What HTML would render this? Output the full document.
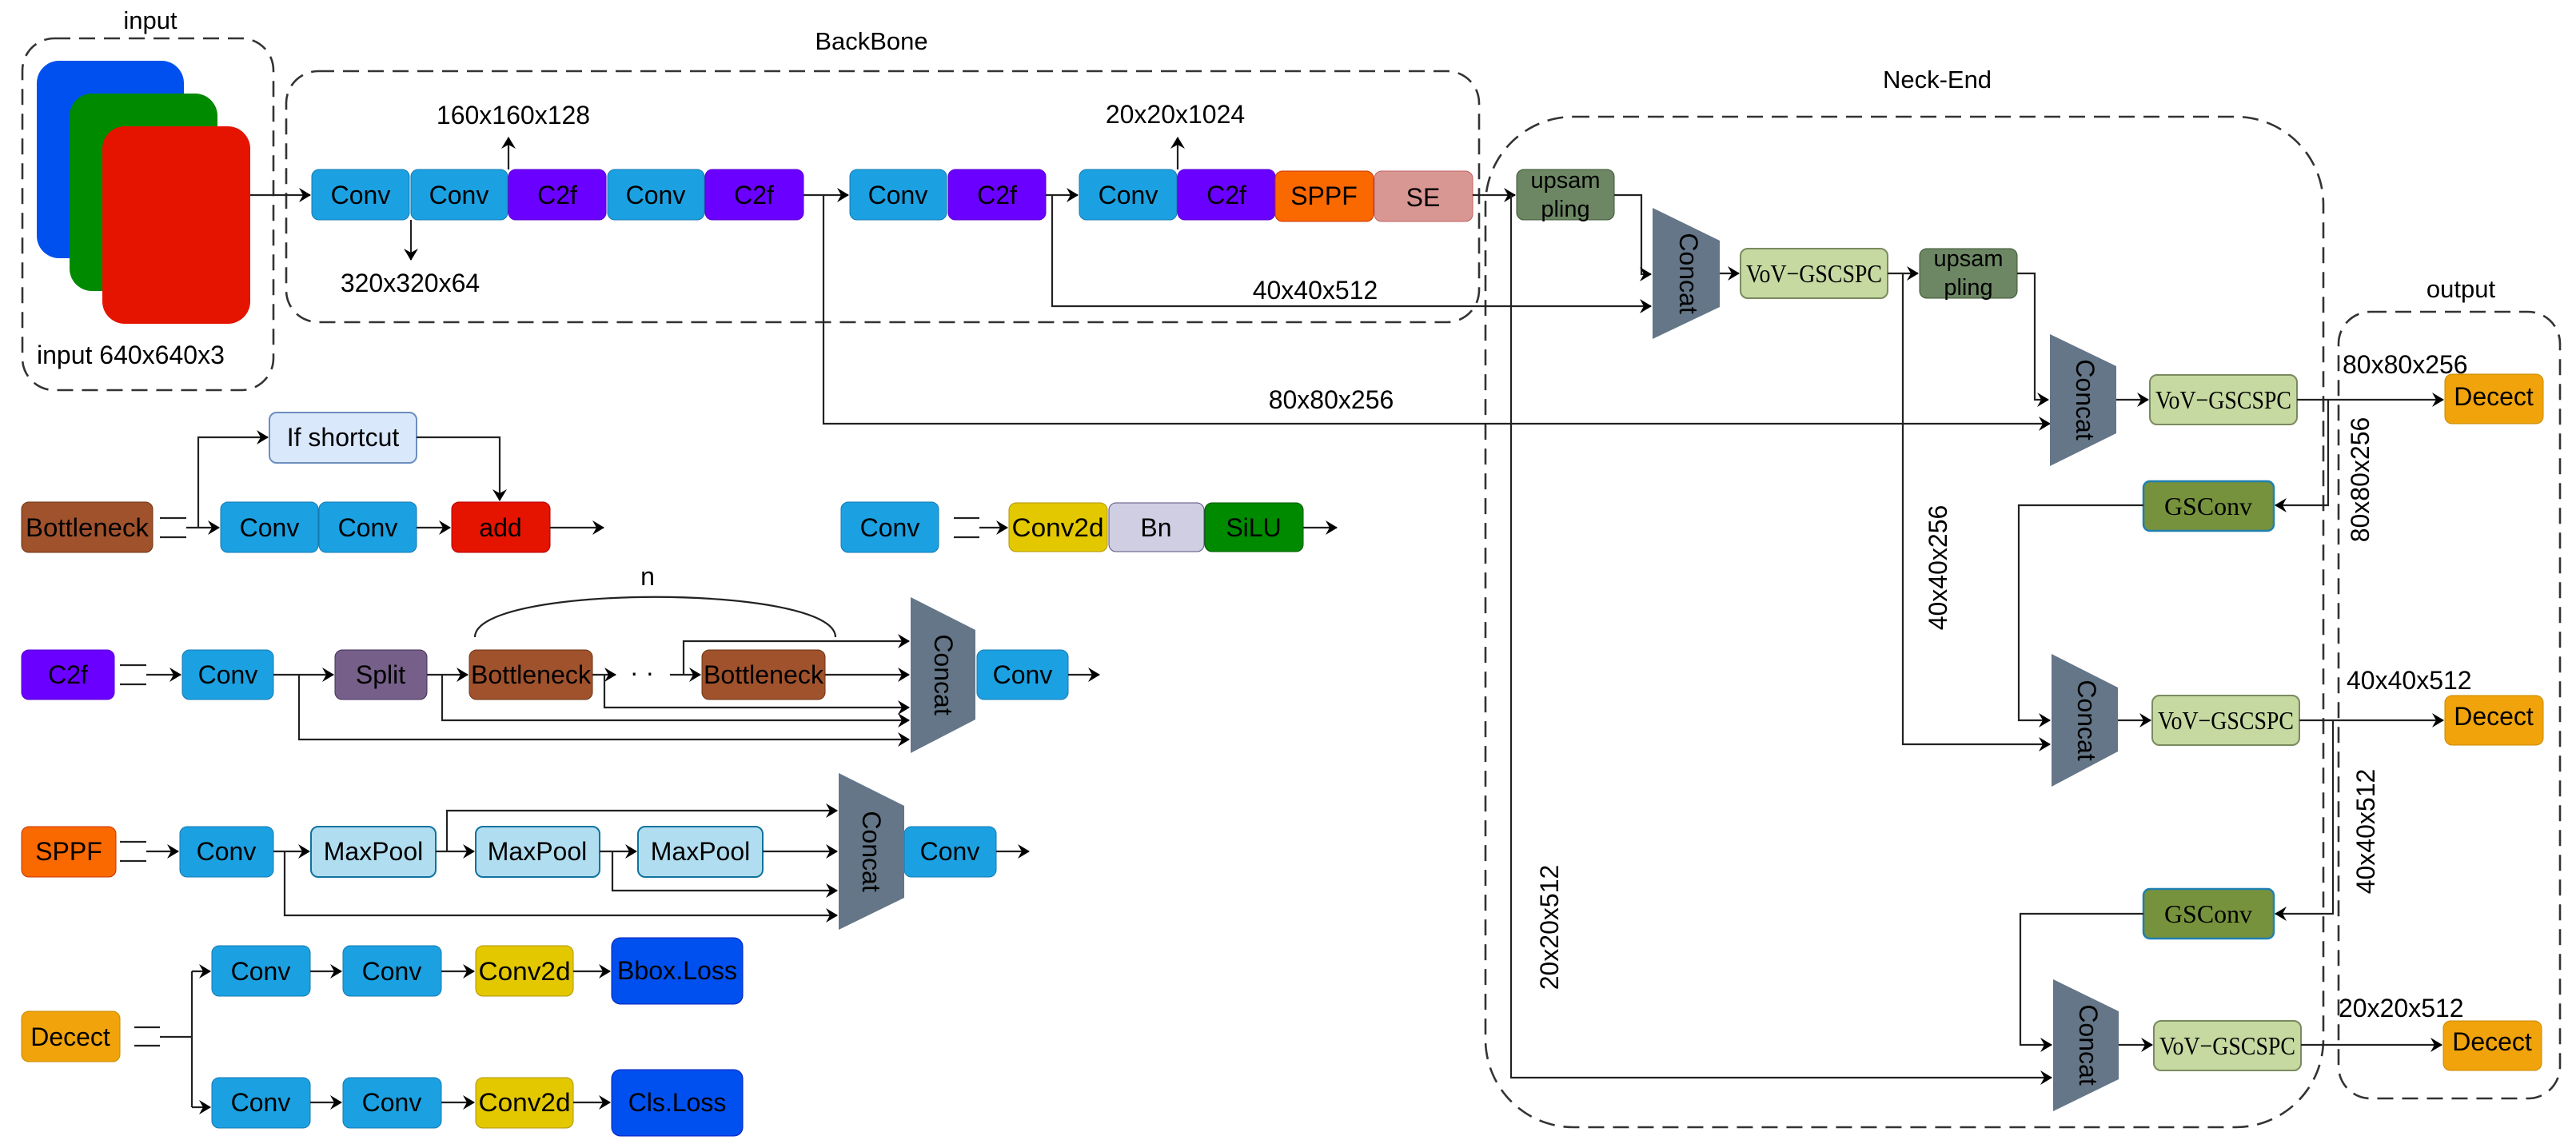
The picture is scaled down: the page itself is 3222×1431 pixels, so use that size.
<!DOCTYPE html>
<html><head><meta charset="utf-8"><style>
html,body{margin:0;padding:0;background:#fff;}
svg{display:block;}
text{font-family:"Liberation Sans",Arial,sans-serif;fill:#000;}
.s{font-family:"Liberation Serif",serif;}
.l{stroke:#222;stroke-width:2.2;fill:none;}
.d{stroke:#333;stroke-width:2.6;fill:none;stroke-dasharray:20 11;}
</style></head><body>
<svg width="3222" height="1431" viewBox="0 0 3222 1431" xmlns="http://www.w3.org/2000/svg">
<defs>
<marker id="a" markerUnits="userSpaceOnUse" markerWidth="16" markerHeight="18" refX="14" refY="9" orient="auto"><path d="M0,0 L15,9 L0,18 L5,9 Z" fill="#000"/></marker>
</defs>

<rect class="d" x="28" y="48" width="314" height="440" rx="40"/>
<rect class="d" x="358" y="89" width="1492" height="314" rx="40"/>
<rect class="d" x="1858" y="146" width="1048" height="1264" rx="110"/>
<rect class="d" x="2925" y="390" width="277" height="984" rx="40"/>
<text x="188" y="36" font-size="31" text-anchor="middle">input</text>
<text x="1090" y="62" font-size="31" text-anchor="middle">BackBone</text>
<text x="2423" y="110" font-size="31" text-anchor="middle">Neck-End</text>
<text x="3078" y="372" font-size="31" text-anchor="middle">output</text>

<rect x="46" y="76" width="184" height="247" rx="28" fill="#0050ef"/>
<rect x="87" y="117" width="185" height="247" rx="28" fill="#008a00"/>
<rect x="128" y="158" width="185" height="247" rx="28" fill="#e51400"/>
<text x="46" y="455" font-size="32">input 640x640x3</text>

<g font-size="32" text-anchor="middle" dominant-baseline="central">
<rect x="390" y="212" width="122" height="63" rx="9" fill="#1ba1e2" stroke="#1579b0"/><text x="451" y="244">Conv</text>
<rect x="514" y="212" width="121" height="63" rx="9" fill="#1ba1e2" stroke="#1579b0"/><text x="574" y="244">Conv</text>
<rect x="636" y="212" width="122" height="63" rx="9" fill="#6a00ff" stroke="#5a00d0"/><text x="697" y="244">C2f</text>
<rect x="760" y="212" width="121" height="63" rx="9" fill="#1ba1e2" stroke="#1579b0"/><text x="820" y="244">Conv</text>
<rect x="882" y="212" width="123" height="63" rx="9" fill="#6a00ff" stroke="#5a00d0"/><text x="943" y="244">C2f</text>
<rect x="1063" y="212" width="121" height="63" rx="9" fill="#1ba1e2" stroke="#1579b0"/><text x="1123" y="244">Conv</text>
<rect x="1186" y="212" width="122" height="63" rx="9" fill="#6a00ff" stroke="#5a00d0"/><text x="1247" y="244">C2f</text>
<rect x="1350" y="212" width="122" height="63" rx="9" fill="#1ba1e2" stroke="#1579b0"/><text x="1411" y="244">Conv</text>
<rect x="1473" y="212" width="122" height="63" rx="9" fill="#6a00ff" stroke="#5a00d0"/><text x="1534" y="244">C2f</text>
<rect x="1595" y="214" width="123" height="63" rx="9" fill="#fa6800" stroke="#c73500"/><text x="1656" y="245">SPPF</text>
<rect x="1719" y="214" width="123" height="63" rx="9" fill="#d99793" stroke="#c06060"/><text x="1780" y="247">SE</text>
</g>
<text x="642" y="155" font-size="32" text-anchor="middle">160x160x128</text>
<text x="513" y="365" font-size="32" text-anchor="middle">320x320x64</text>
<text x="1470" y="154" font-size="32" text-anchor="middle">20x20x1024</text>
<text x="1645" y="374" font-size="32" text-anchor="middle">40x40x512</text>
<text x="1665" y="511" font-size="32" text-anchor="middle">80x80x256</text>

<path class="l" d="M313,244 H388" marker-end="url(#a)"/>
<path class="l" d="M514,275 V325" marker-end="url(#a)"/>
<path class="l" d="M636,212 V172" marker-end="url(#a)"/>
<path class="l" d="M1005,244 H1061" marker-end="url(#a)"/>
<path class="l" d="M1030,244 V530 H2564" marker-end="url(#a)"/>
<path class="l" d="M1308,244 H1348" marker-end="url(#a)"/>
<path class="l" d="M1316,244 V383 H2065" marker-end="url(#a)"/>
<path class="l" d="M1473,212 V172" marker-end="url(#a)"/>
<path class="l" d="M1842,244 H1895" marker-end="url(#a)"/>
<path class="l" d="M1890,244 V1348 H2566" marker-end="url(#a)"/>

<g font-size="29" text-anchor="middle" dominant-baseline="central">
<rect x="1897" y="212" width="122" height="63" rx="9" fill="#6d8764" stroke="#3a5431"/><text x="1958" y="226">upsam</text><text x="1958" y="262">pling</text>
<rect x="2401" y="311" width="122" height="62" rx="9" fill="#6d8764" stroke="#3a5431"/><text x="2462" y="324">upsam</text><text x="2462" y="360">pling</text>
</g>
<g fill="#647687">
<polygon points="2067,260 2151,301 2151,384 2067,424"/>
<polygon points="2564,418 2647,458 2647,542 2564,583"/>
<polygon points="2566,818 2649,860 2649,940 2566,984"/>
<polygon points="2568,1225 2650,1265 2650,1350 2568,1390"/>
</g>
<g font-size="32" text-anchor="middle" dominant-baseline="central">
<text transform="translate(2112,342) rotate(90)">Concat</text>
<text transform="translate(2608,500) rotate(90)">Concat</text>
<text transform="translate(2610,901) rotate(90)">Concat</text>
<text transform="translate(2612,1307) rotate(90)">Concat</text>
</g>
<g font-size="32" text-anchor="middle" dominant-baseline="central">
<rect x="2177" y="311" width="184" height="62" rx="9" fill="#c5d9a1" stroke="#7a8a5f" stroke-width="2"/><text class="s" x="2269" y="342" textLength="170" lengthAdjust="spacingAndGlyphs">VoV−GSCSPC</text>
<rect x="2689" y="469" width="184" height="62" rx="9" fill="#c5d9a1" stroke="#7a8a5f" stroke-width="2"/><text class="s" x="2781" y="500" textLength="170" lengthAdjust="spacingAndGlyphs">VoV−GSCSPC</text>
<rect x="2692" y="870" width="184" height="62" rx="9" fill="#c5d9a1" stroke="#7a8a5f" stroke-width="2"/><text class="s" x="2784" y="901" textLength="170" lengthAdjust="spacingAndGlyphs">VoV−GSCSPC</text>
<rect x="2694" y="1277" width="184" height="62" rx="9" fill="#c5d9a1" stroke="#7a8a5f" stroke-width="2"/><text class="s" x="2786" y="1308" textLength="170" lengthAdjust="spacingAndGlyphs">VoV−GSCSPC</text>
<rect x="2681" y="602" width="163" height="62" rx="8" fill="#76923c" stroke="#1f7fb0" stroke-width="2.5"/><text class="s" x="2762" y="633" textLength="110" lengthAdjust="spacingAndGlyphs">GSConv</text>
<rect x="2681" y="1112" width="163" height="62" rx="8" fill="#76923c" stroke="#1f7fb0" stroke-width="2.5"/><text class="s" x="2762" y="1143" textLength="110" lengthAdjust="spacingAndGlyphs">GSConv</text>
</g>
<g font-size="32" text-anchor="middle" dominant-baseline="central">
<rect x="3058" y="468" width="123" height="62" rx="9" fill="#f0a30a" stroke="#c98a00"/><text x="3119" y="496">Decect</text>
<rect x="3058" y="870" width="123" height="62" rx="9" fill="#f0a30a" stroke="#c98a00"/><text x="3119" y="896">Decect</text>
<rect x="3056" y="1277" width="123" height="62" rx="9" fill="#f0a30a" stroke="#c98a00"/><text x="3117" y="1303">Decect</text>
</g>
<text x="2930" y="467" font-size="32">80x80x256</text>
<text x="2935" y="862" font-size="32">40x40x512</text>
<text x="2925" y="1272" font-size="32">20x20x512</text>
<g font-size="32" text-anchor="middle" dominant-baseline="central">
<text transform="translate(2952,600) rotate(-90)">80x80x256</text>
<text transform="translate(2424,710) rotate(-90)">40x40x256</text>
<text transform="translate(2959,1040) rotate(-90)">40x40x512</text>
<text transform="translate(1938,1160) rotate(-90)">20x20x512</text>
</g>

<path class="l" d="M2019,244 H2053 V343 H2065" marker-end="url(#a)"/>
<path class="l" d="M2151,342 H2175" marker-end="url(#a)"/>
<path class="l" d="M2361,342 H2399" marker-end="url(#a)"/>
<path class="l" d="M2380,342 V931 H2564" marker-end="url(#a)"/>
<path class="l" d="M2523,342 H2545 V500 H2562" marker-end="url(#a)"/>
<path class="l" d="M2647,500 H2687" marker-end="url(#a)"/>
<path class="l" d="M2873,500 H3056" marker-end="url(#a)"/>
<path class="l" d="M2912,500 V632 H2846" marker-end="url(#a)"/>
<path class="l" d="M2681,632 H2525 V901 H2564" marker-end="url(#a)"/>
<path class="l" d="M2649,901 H2690" marker-end="url(#a)"/>
<path class="l" d="M2876,901 H3056" marker-end="url(#a)"/>
<path class="l" d="M2918,901 V1143 H2846" marker-end="url(#a)"/>
<path class="l" d="M2681,1143 H2527 V1307 H2566" marker-end="url(#a)"/>
<path class="l" d="M2650,1307 H2692" marker-end="url(#a)"/>
<path class="l" d="M2878,1307 H3054" marker-end="url(#a)"/>

<g font-size="32" text-anchor="middle" dominant-baseline="central">
<rect x="27" y="628" width="164" height="63" rx="9" fill="#a0522d" stroke="#6d3510"/><text x="109" y="660" textLength="154" lengthAdjust="spacingAndGlyphs">Bottleneck</text>
<rect x="276" y="628" width="122" height="63" rx="9" fill="#1ba1e2" stroke="#1579b0"/><text x="337" y="660">Conv</text>
<rect x="399" y="628" width="122" height="63" rx="9" fill="#1ba1e2" stroke="#1579b0"/><text x="460" y="660">Conv</text>
<rect x="565" y="628" width="123" height="63" rx="9" fill="#e51400" stroke="#b20000"/><text x="626" y="660">add</text>
<rect x="337" y="516" width="184" height="63" rx="9" fill="#dae8fc" stroke="#6c8ebf" stroke-width="2"/><text x="429" y="547">If shortcut</text>
<rect x="1052" y="628" width="122" height="63" rx="9" fill="#1ba1e2" stroke="#1579b0"/><text x="1113" y="660">Conv</text>
<rect x="1262" y="629" width="123" height="61" rx="9" fill="#e3c800" stroke="#b09500"/><text x="1323" y="660" textLength="115" lengthAdjust="spacingAndGlyphs">Conv2d</text>
<rect x="1387" y="629" width="119" height="61" rx="9" fill="#d0cee2" stroke="#56517e"/><text x="1446" y="660">Bn</text>
<rect x="1507" y="629" width="123" height="61" rx="9" fill="#008a00" stroke="#005700"/><text x="1568" y="660">SiLU</text>
<rect x="27" y="813" width="116" height="62" rx="9" fill="#6a00ff" stroke="#5a00d0"/><text x="85" y="844">C2f</text>
<rect x="228" y="813" width="114" height="62" rx="9" fill="#1ba1e2" stroke="#1579b0"/><text x="285" y="844">Conv</text>
<rect x="419" y="813" width="115" height="62" rx="9" fill="#76608a" stroke="#432d57"/><text x="476" y="844">Split</text>
<rect x="587" y="813" width="154" height="62" rx="9" fill="#a0522d" stroke="#6d3510"/><text x="664" y="844" textLength="150" lengthAdjust="spacingAndGlyphs">Bottleneck</text>
<rect x="878" y="813" width="154" height="62" rx="9" fill="#a0522d" stroke="#6d3510"/><text x="955" y="844" textLength="150" lengthAdjust="spacingAndGlyphs">Bottleneck</text>
<rect x="1222" y="813" width="114" height="62" rx="9" fill="#1ba1e2" stroke="#1579b0"/><text x="1279" y="844">Conv</text>
<rect x="27" y="1034" width="118" height="63" rx="9" fill="#fa6800" stroke="#c73500"/><text x="86" y="1065">SPPF</text>
<rect x="225" y="1034" width="117" height="63" rx="9" fill="#1ba1e2" stroke="#1579b0"/><text x="283" y="1065">Conv</text>
<rect x="389" y="1034" width="156" height="63" rx="9" fill="#b1ddf0" stroke="#10739e" stroke-width="2"/><text x="467" y="1065">MaxPool</text>
<rect x="595" y="1034" width="155" height="63" rx="9" fill="#b1ddf0" stroke="#10739e" stroke-width="2"/><text x="672" y="1065">MaxPool</text>
<rect x="798" y="1034" width="156" height="63" rx="9" fill="#b1ddf0" stroke="#10739e" stroke-width="2"/><text x="876" y="1065">MaxPool</text>
<rect x="1131" y="1034" width="115" height="63" rx="9" fill="#1ba1e2" stroke="#1579b0"/><text x="1188" y="1065">Conv</text>
<rect x="27" y="1265" width="123" height="63" rx="9" fill="#f0a30a" stroke="#c98a00"/><text x="88" y="1297">Decect</text>
<rect x="265" y="1183" width="123" height="63" rx="9" fill="#1ba1e2" stroke="#1579b0"/><text x="326" y="1215">Conv</text>
<rect x="429" y="1183" width="123" height="63" rx="9" fill="#1ba1e2" stroke="#1579b0"/><text x="490" y="1215">Conv</text>
<rect x="595" y="1183" width="122" height="63" rx="9" fill="#e3c800" stroke="#b09500"/><text x="656" y="1215" textLength="115" lengthAdjust="spacingAndGlyphs">Conv2d</text>
<rect x="765" y="1173" width="164" height="83" rx="11" fill="#0050ef" stroke="#001dbc"/><text x="847" y="1214" textLength="150" lengthAdjust="spacingAndGlyphs">Bbox.Loss</text>
<rect x="265" y="1348" width="123" height="63" rx="9" fill="#1ba1e2" stroke="#1579b0"/><text x="326" y="1379">Conv</text>
<rect x="429" y="1348" width="123" height="63" rx="9" fill="#1ba1e2" stroke="#1579b0"/><text x="490" y="1379">Conv</text>
<rect x="595" y="1348" width="122" height="63" rx="9" fill="#e3c800" stroke="#b09500"/><text x="656" y="1379" textLength="115" lengthAdjust="spacingAndGlyphs">Conv2d</text>
<rect x="765" y="1338" width="164" height="83" rx="11" fill="#0050ef" stroke="#001dbc"/><text x="847" y="1379">Cls.Loss</text>
</g>
<g fill="#647687">
<polygon points="1139,747 1220,788 1220,900 1139,942"/>
<polygon points="1049,967 1131,1008 1131,1123 1049,1163"/>
</g>
<g font-size="32" text-anchor="middle" dominant-baseline="central">
<text transform="translate(1180,844) rotate(90)">Concat</text>
<text transform="translate(1090,1065) rotate(90)">Concat</text>
</g>
<text x="810" y="732" font-size="32" text-anchor="middle">n</text>
<text x="803" y="852" font-size="32" text-anchor="middle">· ·</text>

<g class="l">
<path d="M200,648 H233 M200,672 H233"/>
<path d="M233,660 H274" marker-end="url(#a)"/>
<path d="M248,660 V547 H335" marker-end="url(#a)"/>
<path d="M521,547 H625 V626" marker-end="url(#a)"/>
<path d="M521,660 H563" marker-end="url(#a)"/>
<path d="M688,660 H755" marker-end="url(#a)"/>
<path d="M1193,648 H1225 M1193,672 H1225"/>
<path d="M1225,660 H1260" marker-end="url(#a)"/>
<path d="M1630,660 H1672" marker-end="url(#a)"/>
<path d="M150,832 H183 M150,856 H183"/>
<path d="M183,844 H226" marker-end="url(#a)"/>
<path d="M342,844 H417" marker-end="url(#a)"/>
<path d="M534,844 H585" marker-end="url(#a)"/>
<path d="M741,844 H770" marker-end="url(#a)"/>
<path d="M838,844 H876" marker-end="url(#a)"/>
<path d="M855,844 V802 H1137" marker-end="url(#a)"/>
<path d="M1032,844 H1137" marker-end="url(#a)"/>
<path d="M756,844 V885 H1137" marker-end="url(#a)"/>
<path d="M553,844 V901 H1137" marker-end="url(#a)"/>
<path d="M374,844 V925 H1137" marker-end="url(#a)"/>
<path d="M1336,844 H1375" marker-end="url(#a)"/>
<path d="M594,797 C594,730 1045,730 1045,797"/>
<path d="M150,1053 H183 M150,1077 H183"/>
<path d="M183,1065 H223" marker-end="url(#a)"/>
<path d="M342,1065 H387" marker-end="url(#a)"/>
<path d="M545,1065 H593" marker-end="url(#a)"/>
<path d="M750,1065 H796" marker-end="url(#a)"/>
<path d="M954,1065 H1047" marker-end="url(#a)"/>
<path d="M559,1065 V1014 H1047" marker-end="url(#a)"/>
<path d="M766,1065 V1114 H1047" marker-end="url(#a)"/>
<path d="M356,1065 V1145 H1047" marker-end="url(#a)"/>
<path d="M1246,1065 H1287" marker-end="url(#a)"/>
<path d="M168,1285 H200 M168,1308 H200"/>
<path d="M200,1297 H240 M240,1215 V1385"/>
<path d="M240,1215 H263" marker-end="url(#a)"/>
<path d="M240,1385 H263" marker-end="url(#a)"/>
<path d="M388,1215 H427" marker-end="url(#a)"/>
<path d="M552,1215 H593" marker-end="url(#a)"/>
<path d="M717,1215 H763" marker-end="url(#a)"/>
<path d="M388,1379 H427" marker-end="url(#a)"/>
<path d="M552,1379 H593" marker-end="url(#a)"/>
<path d="M717,1379 H763" marker-end="url(#a)"/>
</g>
</svg>
</body></html>
